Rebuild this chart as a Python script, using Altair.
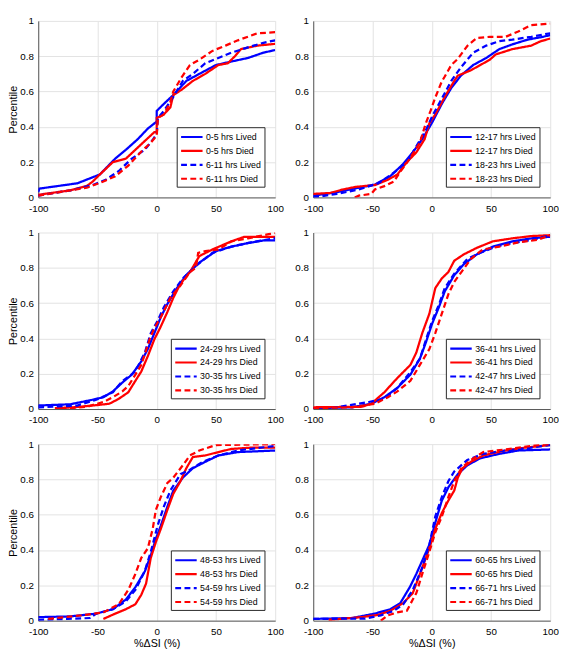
import altair as alt
import pandas as pd

FONT = "Liberation Sans"

# ---------- Panel 1 : 0-5 hrs / 6-11 hrs ----------
x_0_5_lived = [-100, -99, -67, -48, -35, -26, -16, -7.5, 0, 0, 6, 14, 25, 36, 50, 63, 77, 90, 100]
y_0_5_lived = [0.03, 0.05, 0.08, 0.13, 0.22, 0.27, 0.33, 0.39, 0.43, 0.49, 0.53, 0.58, 0.66, 0.70, 0.75, 0.77, 0.79, 0.82, 0.835]
x_0_5_died = [-100, -73, -59, -54, -48, -37, -26, -18, -10, -2, 0, 0, 6, 11.5, 14, 21, 30.5, 41, 52, 60, 66, 71, 85, 100]
y_0_5_died = [0.015, 0.04, 0.065, 0.09, 0.13, 0.2, 0.22, 0.27, 0.32, 0.37, 0.37, 0.45, 0.47, 0.51, 0.58, 0.61, 0.66, 0.70, 0.75, 0.76, 0.80, 0.84, 0.86, 0.87]
x_6_11_lived = [-100, -73, -54, -43, -32, -21, -10, -3, 0, 1, 6, 14, 22, 30.5, 41, 52, 63, 77, 90, 100]
y_6_11_lived = [0.01, 0.04, 0.07, 0.10, 0.15, 0.22, 0.27, 0.33, 0.36, 0.45, 0.49, 0.57, 0.66, 0.70, 0.76, 0.79, 0.82, 0.85, 0.876, 0.89]
x_6_11_died = [-100, -59, -45, -35, -24, -13, -5, 0, 1, 6, 11.5, 14, 21, 28, 36, 47, 58, 68.5, 85, 100]
y_6_11_died = [0.01, 0.055, 0.09, 0.12, 0.18, 0.26, 0.31, 0.35, 0.45, 0.47, 0.54, 0.60, 0.68, 0.75, 0.78, 0.83, 0.86, 0.89, 0.93, 0.936]

# ---------- Panel 2 : 12-17 hrs / 18-23 hrs ----------
x_12_17_lived = [-100, -80, -61.5, -48, -35, -24, -16, -8, 0, 8.5, 16.5, 24.6, 35, 46, 57, 68, 81, 94, 100]
y_12_17_lived = [0.01, 0.03, 0.055, 0.073, 0.12, 0.19, 0.255, 0.33, 0.42, 0.53, 0.62, 0.69, 0.75, 0.79, 0.84, 0.867, 0.894, 0.91, 0.92]
x_12_17_died = [-100, -86, -75, -64, -48, -37, -29, -21, -13, -6, -2, 3, 11, 19, 22, 33, 41, 49, 54, 68, 84, 92, 100]
y_12_17_died = [0.02, 0.025, 0.045, 0.06, 0.07, 0.10, 0.13, 0.20, 0.255, 0.33, 0.42, 0.47, 0.57, 0.66, 0.69, 0.72, 0.75, 0.78, 0.81, 0.84, 0.86, 0.885, 0.90]
x_18_23_lived = [-100, -80, -61.5, -45, -32, -21, -13, -5, 0.4, 8.5, 16.5, 25, 35, 46, 57, 68, 84, 100]
y_18_23_lived = [0.0, 0.02, 0.045, 0.08, 0.14, 0.20, 0.29, 0.38, 0.46, 0.56, 0.66, 0.74, 0.82, 0.86, 0.885, 0.894, 0.91, 0.93]
x_18_23_died = [-65, -61.5, -51, -48, -40, -32, -26.5, -18.5, -10, -5, -1, 3, 8.5, 11, 16.5, 22, 30, 38, 49, 62.4, 73, 84, 100]
y_18_23_died = [0.0, 0.01, 0.02, 0.045, 0.064, 0.09, 0.146, 0.22, 0.31, 0.42, 0.49, 0.566, 0.657, 0.685, 0.75, 0.785, 0.858, 0.903, 0.91, 0.91, 0.94, 0.976, 0.985]

# ---------- Panel 3 : 24-29 hrs / 30-35 hrs ----------
x_24_29_lived = [-100, -73, -56, -45, -37, -29, -21, -13, -7.5, -2, 3.4, 9, 17, 25, 36, 50, 63, 77, 90, 100]
y_24_29_lived = [0.02, 0.027, 0.05, 0.067, 0.10, 0.15, 0.195, 0.27, 0.34, 0.43, 0.52, 0.595, 0.685, 0.76, 0.83, 0.895, 0.92, 0.94, 0.955, 0.955]
x_24_29_died = [-86, -70, -51, -40, -32, -24, -18, -13, -7.5, -2, 3.4, 9, 14, 20, 28, 36, 47, 63, 74, 100]
y_24_29_died = [0.005, 0.01, 0.022, 0.03, 0.058, 0.095, 0.16, 0.213, 0.30, 0.395, 0.467, 0.55, 0.63, 0.71, 0.775, 0.867, 0.904, 0.95, 0.976, 0.976]
x_30_35_lived = [-100, -67, -51, -37, -29, -18, -10, -5, 0.7, 6, 14, 22, 33, 47, 63, 79.5, 100]
y_30_35_lived = [0.01, 0.02, 0.053, 0.095, 0.158, 0.213, 0.32, 0.43, 0.50, 0.576, 0.667, 0.74, 0.81, 0.885, 0.92, 0.945, 0.967]
x_30_35_died = [-81, -59, -45, -37, -29, -24, -18, -13, -6, -2, 3.4, 11.5, 20, 28, 33, 35, 41, 52, 63, 77, 90, 100]
y_30_35_died = [0.0, 0.013, 0.04, 0.067, 0.10, 0.13, 0.195, 0.25, 0.395, 0.458, 0.52, 0.63, 0.70, 0.776, 0.80, 0.885, 0.895, 0.904, 0.95, 0.967, 0.985, 0.998]

# ---------- Panel 4 : 36-41 hrs / 42-47 hrs ----------
x_36_41_lived = [-100, -67, -51, -40, -29, -18, -10, -5, 0.4, 6, 11, 19, 27, 38, 51.5, 68, 84, 100]
y_36_41_lived = [0.005, 0.01, 0.03, 0.067, 0.12, 0.195, 0.285, 0.376, 0.485, 0.576, 0.667, 0.758, 0.82, 0.876, 0.92, 0.95, 0.967, 0.976]
x_36_41_died = [-100, -59, -51, -40, -29, -18, -13, -8, -2, 3, 8.5, 14, 19, 27, 38, 51.5, 68, 84, 100]
y_36_41_died = [0.01, 0.013, 0.03, 0.095, 0.176, 0.25, 0.32, 0.43, 0.54, 0.685, 0.74, 0.776, 0.84, 0.876, 0.913, 0.95, 0.967, 0.98, 0.985]
x_42_47_lived = [-100, -90, -80, -53, -40, -29, -18, -10, -5, 0.4, 6, 11, 19, 30, 41, 54, 68, 84, 100]
y_42_47_lived = [0.0, 0.0, 0.01, 0.04, 0.058, 0.12, 0.21, 0.285, 0.39, 0.50, 0.59, 0.685, 0.767, 0.85, 0.885, 0.92, 0.94, 0.958, 0.985]
x_42_47_died = [-100, -67, -48, -37, -29, -18, -10, -2, 3, 8.5, 14, 19, 25, 33, 43, 57, 73, 89, 100]
y_42_47_died = [0.005, 0.01, 0.03, 0.067, 0.10, 0.16, 0.25, 0.34, 0.43, 0.54, 0.65, 0.72, 0.776, 0.85, 0.904, 0.92, 0.944, 0.958, 0.985]

# ---------- Panel 5 : 48-53 hrs / 54-59 hrs ----------
x_48_53_lived = [-100, -73, -51, -37, -26, -18, -10, -5, -0.7, 3.4, 9, 14, 22, 30.5, 41, 52, 68.5, 100]
y_48_53_lived = [0.02, 0.024, 0.04, 0.065, 0.12, 0.19, 0.28, 0.37, 0.465, 0.537, 0.646, 0.737, 0.81, 0.864, 0.9, 0.936, 0.955, 0.964]
x_48_53_died = [-45, -35, -26, -18, -13, -9, -5, -0.7, 3.4, 9, 14, 20, 25, 30.5, 41, 52, 63, 79.5, 100]
y_48_53_died = [0.01, 0.04, 0.065, 0.093, 0.147, 0.21, 0.356, 0.446, 0.519, 0.628, 0.719, 0.79, 0.864, 0.927, 0.936, 0.955, 0.973, 0.98, 0.98]
x_54_59_lived = [-100, -75, -56, -51, -37, -26, -18, -10, -5, 0.7, 6, 11.5, 20, 28, 39, 52, 68.5, 100]
y_54_59_lived = [0.005, 0.01, 0.015, 0.04, 0.065, 0.11, 0.174, 0.283, 0.39, 0.537, 0.646, 0.737, 0.83, 0.855, 0.9, 0.936, 0.964, 0.99]
x_54_59_died = [-91.6, -64, -45, -32, -24, -18, -13, -7.5, -3.4, -0.7, 3.4, 9, 14, 22, 28, 36, 50, 100]
y_54_59_died = [0.01, 0.03, 0.047, 0.093, 0.174, 0.265, 0.356, 0.41, 0.52, 0.628, 0.70, 0.78, 0.81, 0.88, 0.936, 0.964, 0.995, 1.0]

# ---------- Panel 6 : 60-65 hrs / 66-71 hrs ----------
x_60_65_lived = [-100, -67, -48, -35, -26.5, -18.5, -13, -8, -2, 3, 8.5, 14, 22, 30, 41, 57, 73, 100]
y_60_65_lived = [0.01, 0.015, 0.04, 0.065, 0.10, 0.19, 0.265, 0.34, 0.43, 0.555, 0.68, 0.755, 0.83, 0.88, 0.92, 0.945, 0.964, 0.97]
x_60_65_died = [-87, -59, -45, -35, -24, -16, -8, -2, 3, 8.5, 14, 19, 22, 26, 33, 43.5, 62, 78.5, 100]
y_60_65_died = [0.005, 0.02, 0.033, 0.056, 0.10, 0.156, 0.30, 0.41, 0.52, 0.61, 0.68, 0.737, 0.81, 0.864, 0.90, 0.936, 0.964, 0.98, 0.995]
x_66_71_lived = [-100, -56, -43, -32, -24, -16, -8, -2, 3, 8.5, 14, 19, 30, 43.5, 62, 84, 100]
y_66_71_lived = [0.01, 0.012, 0.03, 0.056, 0.093, 0.174, 0.30, 0.43, 0.59, 0.70, 0.79, 0.845, 0.91, 0.945, 0.964, 0.98, 0.995]
x_66_71_died = [-43, -37, -29, -21, -16, -13, -8, -2, 3, 8.5, 14, 19, 25, 33, 43.5, 62, 84, 100]
y_66_71_died = [0.0, 0.03, 0.047, 0.056, 0.12, 0.156, 0.265, 0.39, 0.50, 0.59, 0.70, 0.79, 0.864, 0.91, 0.955, 0.97, 0.99, 1.0]

x_ticks = [-100, -50, 0, 50, 100]
y_ticks = [0, 0.2, 0.4, 0.6, 0.8, 1]
x_title = "%ΔSI (%)"
y_title = "Percentile"

panels = [
    [("0-5 hrs Lived", x_0_5_lived, y_0_5_lived), ("0-5 hrs Died", x_0_5_died, y_0_5_died),
     ("6-11 hrs Lived", x_6_11_lived, y_6_11_lived), ("6-11 hrs Died", x_6_11_died, y_6_11_died)],
    [("12-17 hrs Lived", x_12_17_lived, y_12_17_lived), ("12-17 hrs Died", x_12_17_died, y_12_17_died),
     ("18-23 hrs Lived", x_18_23_lived, y_18_23_lived), ("18-23 hrs Died", x_18_23_died, y_18_23_died)],
    [("24-29 hrs Lived", x_24_29_lived, y_24_29_lived), ("24-29 hrs Died", x_24_29_died, y_24_29_died),
     ("30-35 hrs Lived", x_30_35_lived, y_30_35_lived), ("30-35 hrs Died", x_30_35_died, y_30_35_died)],
    [("36-41 hrs Lived", x_36_41_lived, y_36_41_lived), ("36-41 hrs Died", x_36_41_died, y_36_41_died),
     ("42-47 hrs Lived", x_42_47_lived, y_42_47_lived), ("42-47 hrs Died", x_42_47_died, y_42_47_died)],
    [("48-53 hrs Lived", x_48_53_lived, y_48_53_lived), ("48-53 hrs Died", x_48_53_died, y_48_53_died),
     ("54-59 hrs Lived", x_54_59_lived, y_54_59_lived), ("54-59 hrs Died", x_54_59_died, y_54_59_died)],
    [("60-65 hrs Lived", x_60_65_lived, y_60_65_lived), ("60-65 hrs Died", x_60_65_died, y_60_65_died),
     ("66-71 hrs Lived", x_66_71_lived, y_66_71_lived), ("66-71 hrs Died", x_66_71_died, y_66_71_died)],
]

COLORS = ["#0000ff", "#ff0000", "#0000ff", "#ff0000"]
DASHES = [[1, 0], [1, 0], [6, 3.5], [6, 3.5]]


def make_panel(entries, idx):
    rows = []
    for name, xs, ys in entries:
        for i, (xv, yv) in enumerate(zip(xs, ys)):
            rows.append({"series": name, "x": xv, "y": yv, "i": i})
    df = pd.DataFrame(rows)
    names = [e[0] for e in entries]

    xaxis = dict(values=x_ticks, labelExpr="datum.value + ''", labelFlush=False, labelPadding=6)
    if idx >= 4:
        xaxis["title"] = x_title
    else:
        xaxis["title"] = None
    yaxis = dict(values=y_ticks, format="~g", labelPadding=5)
    if idx % 2 == 0:
        yaxis["title"] = y_title
    else:
        yaxis["title"] = None

    leg = dict(
        title=None, orient="bottom-right", offset=11,
        fillColor="white", strokeColor="#262626", padding=3,
        symbolType="M-1,0H3", symbolSize=121, symbolStrokeWidth=2.2,
        labelFont=FONT, labelFontSize=9, labelColor="#000000",
        rowPadding=2.3, labelOffset=13,
    )

    return alt.Chart(df).mark_line(strokeWidth=2.3, clip=True).encode(
        x=alt.X("x:Q", scale=alt.Scale(domain=[-100, 100], nice=False), axis=alt.Axis(**xaxis)),
        y=alt.Y("y:Q", scale=alt.Scale(domain=[0, 1], nice=False), axis=alt.Axis(**yaxis)),
        color=alt.Color("series:N", scale=alt.Scale(domain=names, range=COLORS), legend=alt.Legend(**leg)),
        strokeDash=alt.StrokeDash("series:N", scale=alt.Scale(domain=names, range=DASHES), legend=alt.Legend(**leg)),
        order=alt.Order("i:Q"),
    ).properties(width=243, height=181)


charts = [make_panel(p, k) for k, p in enumerate(panels)]

chart = alt.concat(*charts, columns=2).properties(
    spacing={"row": 15, "column": 11}, align="each", padding=0
).resolve_scale(
    color="independent", strokeDash="independent"
).resolve_legend(
    color="independent", strokeDash="independent"
).configure_view(
    stroke=None
).configure_axis(
    labelFont=FONT, labelFontSize=10, labelColor="#000000",
    titleFont=FONT, titleFontSize=11, titleFontWeight="normal", titleColor="#000000", titlePadding=1,
    grid=True, gridColor="#e2e2e2", gridWidth=1,
    domainColor="#555555", domainWidth=1, ticks=False,
)

chart.save("out.html", embed_options={"renderer": "svg", "actions": False})
